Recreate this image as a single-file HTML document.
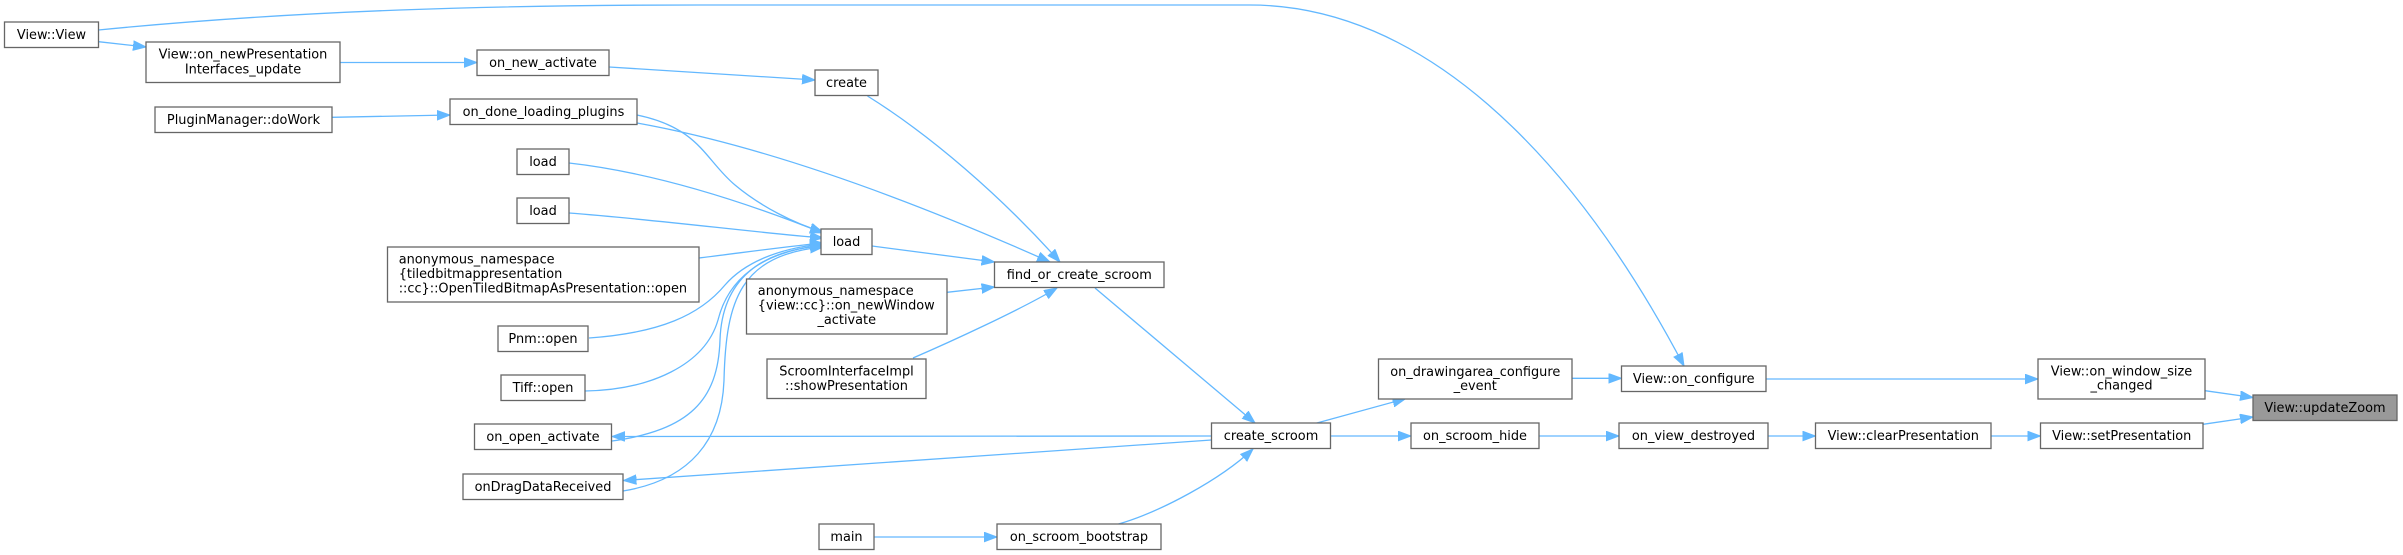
<!DOCTYPE html>
<html>
<head>
<meta charset="utf-8">
<style>
  html, body { margin: 0; padding: 0; background: #ffffff; }
  svg { display: block; }
  text { font-family: "DejaVu Sans", "Liberation Sans", sans-serif; font-size: 12.9px; fill: #000; }
  .n { fill: #ffffff; stroke: #666666; stroke-width: 1.3; }
  .r { fill: #999999; stroke: #666666; stroke-width: 1.3; }
  .e { fill: none; stroke: #63b8ff; stroke-width: 1.3; marker-end: url(#ah); }
</style>
</head>
<body>
<svg width="2403" height="555" viewBox="0 0 2403 555" xmlns="http://www.w3.org/2000/svg">
  <defs>
    <marker id="ah" markerWidth="14" markerHeight="11" refX="13" refY="5" orient="auto" markerUnits="userSpaceOnUse">
      <path d="M0,0.2 L13,5 L0,9.8 z" fill="#63b8ff" stroke="#63b8ff" stroke-width="1"/>
    </marker>
  </defs>

  <!-- edges -->
  <path class="e" d="M98.5,41.7 L146,47"/>
  <path class="e" d="M98.5,30 C300,10 500,5 700,5 L1250,5 C1420,5 1570,150 1684,366"/>
  <path class="e" d="M340,62.5 L477,62.5"/>
  <path class="e" d="M609,67 L815,80"/>
  <path class="e" d="M867.5,96 C930,135 1000,195 1060,262"/>
  <path class="e" d="M332,117.3 L450,115"/>
  <path class="e" d="M637,115 C700,128 705,160 735,185 C760,206 795,224 823,232"/>
  <path class="e" d="M637,123 C760,145 900,195 1050,262"/>
  <path class="e" d="M569,163 C650,172 740,200 823,233"/>
  <path class="e" d="M569,213 C660,220 750,232 823,238"/>
  <path class="e" d="M699,258 C740,253 790,246 823,243"/>
  <path class="e" d="M589,338 C660,333 700,315 725,285 C745,262 780,248 823,244"/>
  <path class="e" d="M585,391 C650,390 705,365 718,320 C728,280 760,252 823,245"/>
  <path class="e" d="M612,441 C690,430 718,400 720,340 C722,280 760,250 823,246"/>
  <path class="e" d="M623,491 C690,480 722,440 724,380 C726,300 740,255 823,247"/>
  <path class="e" d="M1211.5,436 L612,436.5"/>
  <path class="e" d="M1211.5,440 L623.5,480.5"/>
  <path class="e" d="M872,246 L994.5,262"/>
  <path class="e" d="M947,292.3 L994.5,287"/>
  <path class="e" d="M913,358 C950,342 1020,310 1057,288"/>
  <path class="e" d="M1095,288 L1255,423"/>
  <path class="e" d="M874,537 L997,537"/>
  <path class="e" d="M1118.5,524 C1160,512 1220,480 1253,449"/>
  <path class="e" d="M1316,423.3 L1405.5,398.7"/>
  <path class="e" d="M1572,378.3 L1621.5,378.3"/>
  <path class="e" d="M1330.5,436 L1411,436"/>
  <path class="e" d="M1539,436 L1619,436"/>
  <path class="e" d="M1768,436 L1815.5,436"/>
  <path class="e" d="M1766,379 L2038,379"/>
  <path class="e" d="M1991,436 L2040.5,436"/>
  <path class="e" d="M2205,390.7 L2253,397.5"/>
  <path class="e" d="M2203,424.3 L2253,417"/>

  <!-- nodes -->
  <rect class="n" x="4.5" y="22" width="94" height="25.5"/>
  <text x="51.5" y="38.8" text-anchor="middle">View::View</text>

  <rect class="n" x="146" y="42" width="194" height="40.5"/>
  <text x="243" y="58.6" text-anchor="middle">View::on_newPresentation</text>
  <text x="243" y="73.3" text-anchor="middle">Interfaces_update</text>

  <rect class="n" x="477" y="50" width="132" height="25.5"/>
  <text x="543" y="66.8" text-anchor="middle">on_new_activate</text>

  <rect class="n" x="155" y="107" width="177" height="25.5"/>
  <text x="243.5" y="123.8" text-anchor="middle">PluginManager::doWork</text>

  <rect class="n" x="450" y="99" width="187" height="25.5"/>
  <text x="543.5" y="115.8" text-anchor="middle">on_done_loading_plugins</text>

  <rect class="n" x="517" y="149" width="52" height="25.5"/>
  <text x="543" y="165.8" text-anchor="middle">load</text>

  <rect class="n" x="517" y="198" width="52" height="25.5"/>
  <text x="543" y="214.8" text-anchor="middle">load</text>

  <rect class="n" x="387.5" y="247" width="311.5" height="55"/>
  <text x="398.7" y="263.5">anonymous_namespace</text>
  <text x="398.7" y="278">{tiledbitmappresentation</text>
  <text x="398.7" y="292.5">::cc}::OpenTiledBitmapAsPresentation::open</text>

  <rect class="n" x="498" y="326" width="90" height="25.5"/>
  <text x="543" y="342.8" text-anchor="middle">Pnm::open</text>

  <rect class="n" x="501" y="375" width="84" height="25.5"/>
  <text x="543" y="391.8" text-anchor="middle">Tiff::open</text>

  <rect class="n" x="474.5" y="424" width="137" height="25.5"/>
  <text x="543" y="440.8" text-anchor="middle">on_open_activate</text>

  <rect class="n" x="463" y="474" width="160" height="25.5"/>
  <text x="543" y="490.8" text-anchor="middle">onDragDataReceived</text>

  <rect class="n" x="815" y="70" width="63" height="25.5"/>
  <text x="846.5" y="86.8" text-anchor="middle">create</text>

  <rect class="n" x="821" y="229" width="51" height="25.5"/>
  <text x="846.5" y="245.8" text-anchor="middle">load</text>

  <rect class="n" x="994.5" y="262" width="169.5" height="25.5"/>
  <text x="1079.25" y="278.8" text-anchor="middle">find_or_create_scroom</text>

  <rect class="n" x="746.5" y="279" width="200.5" height="55"/>
  <text x="757.8" y="295">anonymous_namespace</text>
  <text x="757.8" y="309.5">{view::cc}::on_newWindow</text>
  <text x="846.75" y="324" text-anchor="middle">_activate</text>

  <rect class="n" x="767" y="359" width="159" height="39.5"/>
  <text x="846.5" y="375.3" text-anchor="middle">ScroomInterfaceImpl</text>
  <text x="846.5" y="389.8" text-anchor="middle">::showPresentation</text>

  <rect class="n" x="1211.5" y="423" width="119" height="25.5"/>
  <text x="1271" y="439.8" text-anchor="middle">create_scroom</text>

  <rect class="n" x="819" y="524" width="55" height="25.5"/>
  <text x="846.5" y="540.8" text-anchor="middle">main</text>

  <rect class="n" x="997" y="524" width="164" height="25.5"/>
  <text x="1079" y="540.8" text-anchor="middle">on_scroom_bootstrap</text>

  <rect class="n" x="1378.5" y="359" width="193.5" height="40"/>
  <text x="1475.25" y="375.8" text-anchor="middle">on_drawingarea_configure</text>
  <text x="1475.25" y="390" text-anchor="middle">_event</text>

  <rect class="n" x="1621.5" y="366" width="144.5" height="25.5"/>
  <text x="1693.75" y="382.8" text-anchor="middle">View::on_configure</text>

  <rect class="n" x="1411" y="423" width="128" height="25.5"/>
  <text x="1475" y="439.8" text-anchor="middle">on_scroom_hide</text>

  <rect class="n" x="1619" y="423" width="149" height="25.5"/>
  <text x="1693.5" y="439.8" text-anchor="middle">on_view_destroyed</text>

  <rect class="n" x="1815.5" y="423" width="175.5" height="25.5"/>
  <text x="1903.25" y="439.8" text-anchor="middle">View::clearPresentation</text>

  <rect class="n" x="2038" y="359" width="167" height="40"/>
  <text x="2121.5" y="375.3" text-anchor="middle">View::on_window_size</text>
  <text x="2121.5" y="389.5" text-anchor="middle">_changed</text>

  <rect class="n" x="2040.5" y="423" width="162.5" height="25.5"/>
  <text x="2121.75" y="439.8" text-anchor="middle">View::setPresentation</text>

  <rect class="r" x="2253" y="395" width="144" height="25.5"/>
  <text x="2325" y="411.8" text-anchor="middle">View::updateZoom</text>
</svg>
</body>
</html>
